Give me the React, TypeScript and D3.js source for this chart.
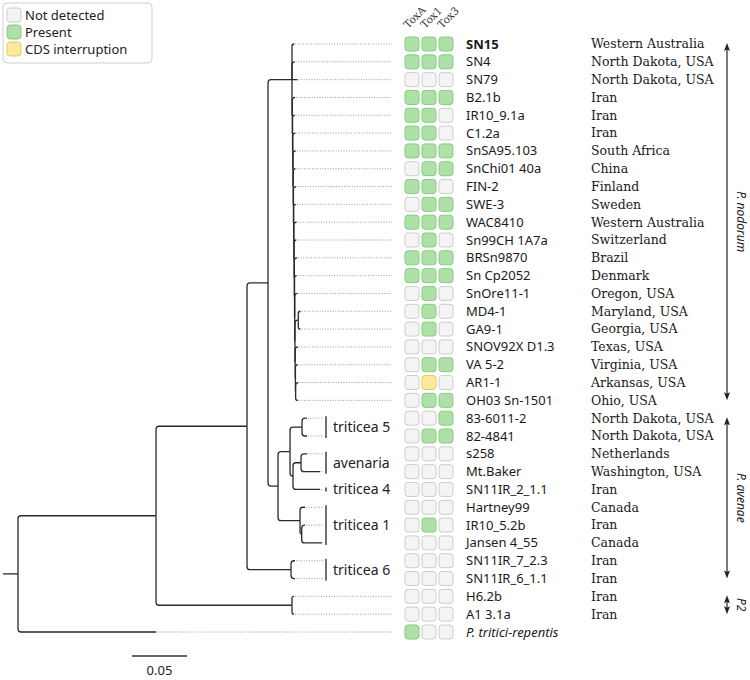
import React from 'react';
import * as d3 from 'd3';

// ---------- data ----------
const strains = [
  'SN15', 'SN4', 'SN79', 'B2.1b', 'IR10_9.1a', 'C1.2a', 'SnSA95.103', 'SnChi01 40a', 'FIN-2', 'SWE-3',
  'WAC8410', 'Sn99CH 1A7a', 'BRSn9870', 'Sn Cp2052', 'SnOre11-1', 'MD4-1', 'GA9-1', 'SNOV92X D1.3',
  'VA 5-2', 'AR1-1', 'OH03 Sn-1501', '83-6011-2', '82-4841', 's258', 'Mt.Baker', 'SN11IR_2_1.1',
  'Hartney99', 'IR10_5.2b', 'Jansen 4_55', 'SN11IR_7_2.3', 'SN11IR_6_1.1', 'H6.2b', 'A1 3.1a',
  'P. tritici-repentis',
];

const countries = [
  'Western Australia', 'North Dakota, USA', 'North Dakota, USA', 'Iran', 'Iran', 'Iran', 'South Africa',
  'China', 'Finland', 'Sweden', 'Western Australia', 'Switzerland', 'Brazil', 'Denmark', 'Oregon, USA',
  'Maryland, USA', 'Georgia, USA', 'Texas, USA', 'Virginia, USA', 'Arkansas, USA', 'Ohio, USA',
  'North Dakota, USA', 'North Dakota, USA', 'Netherlands', 'Washington, USA', 'Iran', 'Canada', 'Iran',
  'Canada', 'Iran', 'Iran', 'Iran', 'Iran', '',
];

// P = present, N = not detected, C = CDS interruption
const toxA = ['P','P','N','P','P','P','P','N','P','N','P','N','P','P','N','N','N','N','N','N','N',
  'N','N','N','N','N','N','N','N','N','N','N','N','P'];
const tox1 = ['P','P','N','P','P','P','P','P','P','P','P','P','P','P','P','P','P','N','P','C','P',
  'N','P','N','N','N','N','P','N','N','N','N','N','N'];
const tox3 = ['P','P','N','P','N','N','P','P','N','P','P','N','P','P','N','N','N','N','P','N','P',
  'P','P','N','N','N','N','N','N','N','N','N','N','N'];
const toxinNames = ['ToxA', 'Tox1', 'Tox3'];

const legendKeys = ['N', 'P', 'C'];
const legendLabels = ['Not detected', 'Present', 'CDS interruption'];

const groupNames = ['triticea 5', 'avenaria', 'triticea 4', 'triticea 1', 'triticea 6'];
const groupFirst = [21, 23, 25, 26, 29];
const groupLast = [22, 24, 25, 28, 30];

const cladeNames = ['P. nodorum', 'P. avenae', 'P2'];
const cladeFirst = [0, 21, 31];
const cladeLast = [20, 30, 32];

// tree (leaf names = row index), branch lengths in substitutions/site
const nodorumNewick =
  '(0:0.002,1:0.0025,2:0.005,(3:0.0025,(4:0.002,(5:0.0025,(6:0.0025,(7:0.002,(8:0.0025,(9:0.002,' +
  '(10:0.0025,(11:0.002,(12:0.0025,(13:0.002,(14:0.0025,((15:0.002,16:0.002):0.003,(17:0.0025,' +
  '(18:0.002,(19:0.0025,20:0.002):0.0002):0.0002):0.0002):0.0002):0.0002):0.0002):0.0002):0.0002' +
  '):0.0002):0.0002):0.0002):0.0002):0.0002):0.0002):0.0002):0.0003)';
const avenaeNewick =
  '(((21:0.0045,22:0.0045):0.0109,((23:0.0055,24:0.0173):0.0073,25:0.0245):0.0027):0.0109,' +
  '(26:0.0045,(27:0.003,28:0.0185):0.0015):0.02)';
const triticea6Newick = '(29:0.0036,30:0.0036)';
const p2Newick = '(31:0.0018,32:0.0018)';
const treeNewick =
  '((((' + nodorumNewick + ':0.0218,' + avenaeNewick + ':0.0091):0.0191,' + triticea6Newick +
  ':0.04):0.0827,' + p2Newick + ':0.1236):0.1255,33:0.1255)';
const rootEdge = 0.0136;
const scaleBarValue = 0.05;

// ---------- helpers ----------
type TNode = { name: string; length: number; children: TNode[] };

function parseNewick(s: string): TNode {
  let i = 0;
  function node(): TNode {
    const n: TNode = { name: '', length: 0, children: [] };
    if (s[i] === '(') {
      i++;
      n.children.push(node());
      while (s[i] === ',') { i++; n.children.push(node()); }
      i++;
    }
    let name = '';
    while (i < s.length && !',():;'.includes(s[i])) name += s[i++];
    n.name = name;
    if (s[i] === ':') {
      i++;
      let num = '';
      while (i < s.length && !',();'.includes(s[i])) num += s[i++];
      n.length = parseFloat(num);
    }
    return n;
  }
  return node();
}

const fills: Record<string, string> = { P: '#afe0a7', N: '#f4f4f4', C: '#fde8a0' };
const strokes: Record<string, string> = { P: '#84cf7e', N: '#cdcdcd', C: '#f0c94f' };

const SANS = "'Noto Sans', 'Open Sans', sans-serif";
const SERIF = "'DejaVu Serif', serif";

function elbow(px: number, py: number, cx: number, cy: number) {
  const dy = cy - py;
  if (Math.abs(dy) < 0.5) return `M${px},${cy}H${cx}`;
  const r = Math.min(3, Math.abs(dy), Math.max(0, cx - px));
  const s = Math.sign(dy);
  return `M${px},${py}V${cy - s * r}Q${px},${cy} ${px + r},${cy}H${cx}`;
}

export default function App() {
  const W = 750, H = 680;
  const x = d3.scaleLinear().domain([0, scaleBarValue]).range([18, 73]);
  const y = d3.scaleLinear().domain([0, strains.length - 1]).range([44, 632]);
  const col = d3.scalePoint<string>().domain(toxinNames).range([412, 446]);
  const box = 14;

  const root = d3.hierarchy<TNode>(parseNewick(treeNewick), d => (d.children.length ? d.children : null));
  const pos = new Map<any, { x: number; y: number; cum: number }>();
  root.eachBefore(n => {
    const cum = n.parent ? pos.get(n.parent)!.cum + n.data.length : 0;
    pos.set(n, { x: x(cum), y: 0, cum });
  });
  root.eachAfter(n => {
    const p = pos.get(n)!;
    if (!n.children) p.y = y(+n.data.name);
    else p.y = (pos.get(n.children[0])!.y + pos.get(n.children[n.children.length - 1])!.y) / 2;
  });

  const branches: string[] = [];
  root.each(n => {
    if (!n.children) return;
    const p = pos.get(n)!;
    n.children.forEach(c => {
      const q = pos.get(c)!;
      branches.push(elbow(p.x, p.y, q.x, q.y));
    });
  });
  const rp = pos.get(root)!;
  branches.push(`M${x(-rootEdge)},${rp.y}H${rp.x}`);

  const groupRow = (i: number) => groupFirst.findIndex((f, k) => i >= f && i <= groupLast[k]) >= 0;
  const leaves = root.leaves().map(l => ({ idx: +l.data.name, ...pos.get(l)! }));

  const toxCols = [toxA, tox1, tox3];
  const arrowX = 727;
  const barLen = x(scaleBarValue) - x(0);

  return (
    <svg width={W} height={H} style={{ position: 'absolute', left: 0, top: 0, background: '#fff' }}>
      {/* legend */}
      <g>
        <rect x={3} y={3} width={149} height={60} rx={4} fill="#fff" stroke="#cfcfcf" />
        {legendKeys.map((k, i) => (
          <g key={k}>
            <rect x={7} y={8 + i * 17} width={box} height={box} rx={3} fill={fills[k]} stroke={strokes[k]} />
            <text x={25} y={15 + i * 17} dy="0.35em" fontFamily={SANS} fontSize={13} fill="#222">{legendLabels[i]}</text>
          </g>
        ))}
      </g>

      {/* tree */}
      <g fill="none" stroke="#2a2a2a" strokeWidth={1.3}>
        {branches.map((d, i) => <path key={i} d={d} />)}
      </g>
      {/* leaders */}
      <g stroke="#9a9a9a" strokeWidth={1} strokeDasharray="1 1.6">
        {leaves.map(l => (
          <line key={l.idx} x1={l.x + 1} x2={groupRow(l.idx) ? 323 : 392} y1={l.y} y2={l.y} />
        ))}
      </g>
      {/* groups */}
      {groupNames.map((g, k) => {
        const y0 = y(groupFirst[k]) - 2, y1 = y(groupLast[k]) + 2;
        return (
          <g key={g}>
            <line x1={326} x2={326} y1={y0} y2={y1} stroke="#222" strokeWidth={1.3} />
            <text x={333} y={(y0 + y1) / 2} dy="0.35em" fontFamily={SANS} fontSize={14} fill="#222">{g}</text>
          </g>
        );
      })}

      {/* toxin header */}
      {toxinNames.map(t => (
        <text key={t} transform={`translate(${col(t)! - 4},29) rotate(-45)`} fontFamily={SERIF} fontSize={10.5} fill="#333">{t}</text>
      ))}
      {/* toxin boxes */}
      {toxCols.map((vals, c) => vals.map((v, i) => (
        <rect key={`${c}-${i}`} x={col(toxinNames[c])! - box / 2} y={y(i) - box / 2} width={box} height={box} rx={3}
          fill={fills[v]} stroke={strokes[v]} strokeWidth={1} />
      )))}

      {/* strain labels */}
      {strains.map((s, i) => (
        <text key={s} x={466} y={y(i)} dy="0.35em" fontFamily={SANS} fontSize={13} fill="#1a1a1a"
          fontWeight={i === 0 ? 'bold' : 'normal'} fontStyle={i === strains.length - 1 ? 'italic' : 'normal'}>{s}</text>
      ))}
      {/* countries */}
      {countries.map((c, i) => (
        <text key={i} x={591} y={y(i)} dy="0.35em" fontFamily={SERIF} fontSize={12.5} fill="#1a1a1a">{c}</text>
      ))}

      {/* clade arrows */}
      {cladeNames.map((c, k) => {
        const y0 = y(cladeFirst[k]) - 1, y1 = y(cladeLast[k]);
        const mid = (y0 + y1) / 2;
        return (
          <g key={c}>
            <line x1={arrowX} x2={arrowX} y1={y0 + 4} y2={y1 - 4} stroke="#222" strokeWidth={1.2} />
            <path d={`M${arrowX},${y0}L${arrowX - 3},${y0 + 8}L${arrowX},${y0 + 6.5}L${arrowX + 3},${y0 + 8}Z`} fill="#222" />
            <path d={`M${arrowX},${y1}L${arrowX - 3},${y1 - 8}L${arrowX},${y1 - 6.5}L${arrowX + 3},${y1 - 8}Z`} fill="#222" />
            <text transform={`translate(741,${mid}) rotate(90)`} textAnchor="middle" dy="0.35em"
              fontFamily={SANS} fontStyle="italic" fontSize={12} fill="#222">{c}</text>
          </g>
        );
      })}

      {/* scale bar */}
      <line x1={132} x2={132 + barLen} y1={656} y2={656} stroke="#333" strokeWidth={1.3} />
      <text x={132 + barLen / 2} y={675} textAnchor="middle" fontFamily={SANS} fontSize={13} fill="#222">{scaleBarValue}</text>
    </svg>
  );
}
